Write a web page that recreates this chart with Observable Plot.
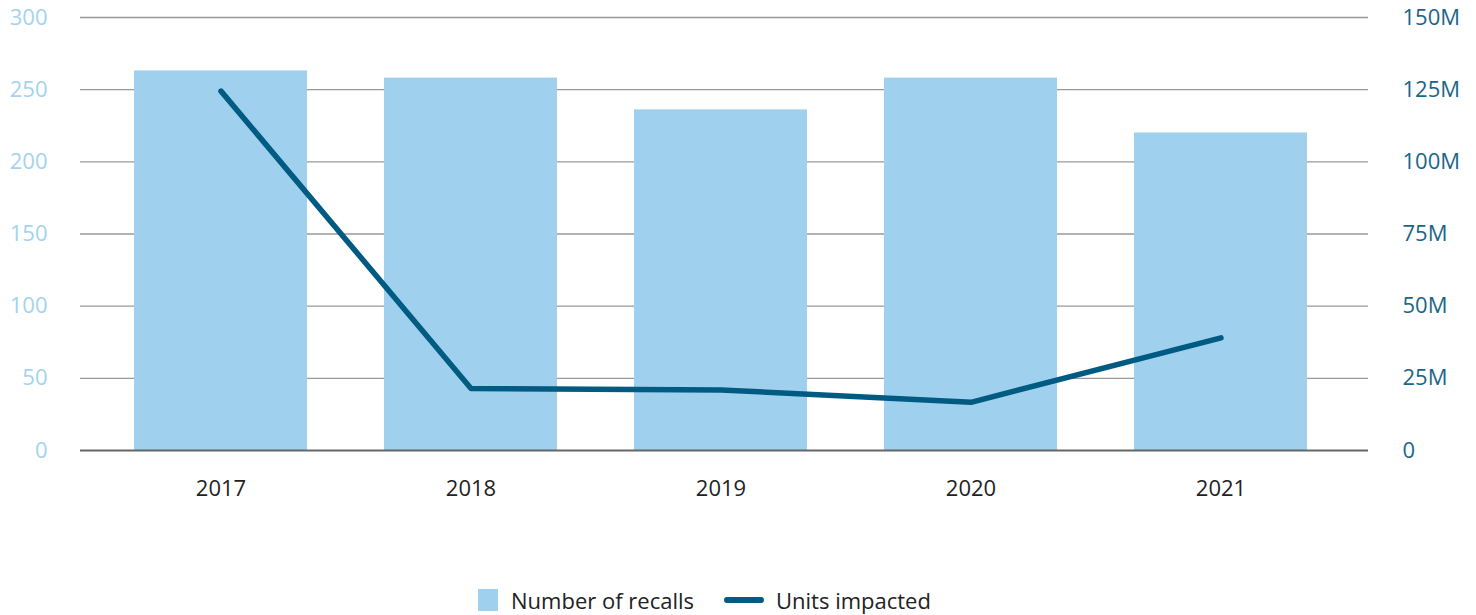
<!DOCTYPE html>
<html>
<head>
<meta charset="utf-8">
<script src="https://cdn.jsdelivr.net/npm/d3@7"></script>
<script src="https://cdn.jsdelivr.net/npm/@observablehq/plot@0.6"></script>
<style>
  html, body { margin: 0; padding: 0; background: #fff; }
  body { font-family: "Open Sans", sans-serif; }
  #chart svg { display: block; }
  .legend { position: relative; height: 75px; font-size: 22px; color: #222; }
  .legend .item { position: absolute; top: 45px; display: flex; align-items: center; }
  .sw-bar { width: 20px; height: 22px; background: #9fd1ee; margin-right: 13px; }
  .sw-line { width: 40px; height: 6px; border-radius: 3px; background: #005b82; margin-right: 12px; }
</style>
</head>
<body>
<div id="chart"></div>
<div class="legend">
  <div class="item" style="left:478px"><span class="sw-bar"></span><span>Number of recalls</span></div>
  <div class="item" style="left:724px"><span class="sw-line"></span><span>Units impacted</span></div>
</div>
<script>
const years = ["2017", "2018", "2019", "2020", "2021"];
const recalls = [263, 258, 236, 258, 220];
const unitsMillions = [124.5, 21.5, 21, 16.7, 39];
const leftTicks = [0, 50, 100, 150, 200, 250, 300];
const rightTickLabels = ["0", "25M", "50M", "75M", "100M", "125M", "150M"];
const gridTicks = [50, 100, 150, 200, 250, 300];

const data = years.map((y, i) => ({year: y, recalls: recalls[i], units: unitsMillions[i]}));
// right axis: 150M corresponds to 300 on the left scale
const ratio = 300 / 150;

const chart = Plot.plot({
  width: 1476,
  height: 540,
  marginLeft: 80,
  marginRight: 108,
  marginTop: 17,
  marginBottom: 90,
  style: {fontFamily: "'Open Sans', sans-serif", fontSize: "22px", overflow: "visible"},
  x: {domain: years, paddingInner: 0.31, paddingOuter: 0.19, insetLeft: 6, insetRight: 13, label: null},
  y: {domain: [0, 300], label: null},
  marks: [
    Plot.ruleY(gridTicks, {stroke: "#999", strokeWidth: 1.3}),
    Plot.barY(data, {x: "year", y: "recalls", fill: "#9fd1ee"}),
    Plot.ruleY([0], {stroke: "#666", strokeWidth: 2}),
    Plot.lineY(data, {x: "year", y: d => d.units * ratio, stroke: "#005b82", strokeWidth: 5.5, strokeLinecap: "round", strokeLinejoin: "round"}),
    Plot.axisX({tickSize: 0, tickPadding: 30, fill: "#222", fontSize: 22, label: null}),
    Plot.axisY({anchor: "left", ticks: leftTicks, tickSize: 0, tickPadding: 33, fill: "#a3d3ef", fontSize: 22, label: null}),
    Plot.axisY({anchor: "right", ticks: leftTicks, tickFormat: (d, i) => rightTickLabels[leftTicks.indexOf(d)], tickSize: 0, tickPadding: 34, fill: "#1a6688", fontSize: 22, label: null, textAnchor: "start"})
  ]
});
document.getElementById("chart").appendChild(chart);
</script>
</body>
</html>
